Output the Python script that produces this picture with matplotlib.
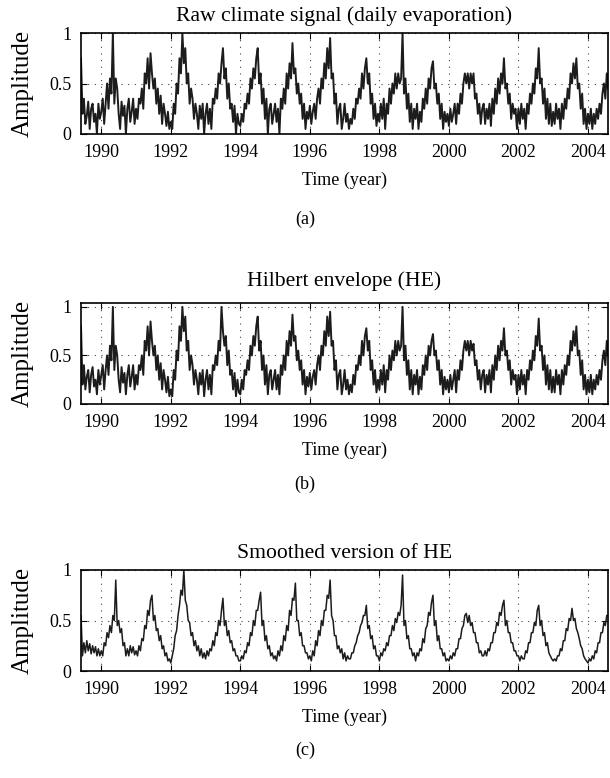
import numpy as np
import matplotlib
matplotlib.use('Agg')
import matplotlib.pyplot as plt

# semi-monthly values, start mid 1989, one line per year
start_year = 1989.42
step = 1 / 24

raw_vals = [
    0.75, 0.2, 0.35, 0.1, 0.18, 0.32, 0.05, 0.25, 0.3, 0.12, 0.2, 0.0, 0.3, 0.15,
    0.22, 0.35, 0.1, 0.3, 0.5, 0.25, 0.55, 0.4, 1.0, 0.3, 0.55, 0.45, 0.2, 0.05, 0.32, 0.18, 0.28, 0.0, 0.25, 0.35, 0.12, 0.22, 0.35, 0.1,
    0.25, 0.15, 0.35, 0.3, 0.45, 0.25, 0.6, 0.5, 0.75, 0.45, 0.8, 0.6, 0.45, 0.55, 0.3, 0.45, 0.2, 0.38, 0.1, 0.3, 0.2, 0.08, 0.22, 0.05,
    0.12, 0.05, 0.3, 0.2, 0.5, 0.4, 0.75, 0.6, 1.0, 0.7, 0.85, 0.5, 0.6, 0.3, 0.45, 0.35, 0.15, 0.3, 0.2, 0.05, 0.28, 0.15, 0.3, 0.0,
    0.2, 0.3, 0.1, 0.25, 0.05, 0.35, 0.3, 0.45, 0.35, 0.6, 0.5, 0.7, 0.85, 0.55, 0.65, 0.35, 0.5, 0.25, 0.3, 0.12, 0.28, 0.0, 0.2, 0.1,
    0.08, 0.2, 0.12, 0.3, 0.25, 0.4, 0.3, 0.55, 0.45, 0.65, 0.55, 0.75, 0.85, 0.5, 0.6, 0.3, 0.45, 0.15, 0.35, 0.0, 0.25, 0.3, 0.1, 0.2,
    0.3, 0.12, 0.25, 0.0, 0.35, 0.25, 0.45, 0.3, 0.6, 0.45, 0.7, 0.55, 0.9, 0.6, 0.65, 0.4, 0.5, 0.3, 0.4, 0.15, 0.3, 0.05, 0.22, 0.15,
    0.28, 0.1, 0.22, 0.3, 0.15, 0.35, 0.45, 0.3, 0.55, 0.45, 0.7, 0.55, 0.85, 0.65, 0.95, 0.55, 0.6, 0.3, 0.4, 0.1, 0.25, 0.3, 0.05, 0.15,
    0.3, 0.12, 0.2, 0.05, 0.15, 0.1, 0.25, 0.15, 0.35, 0.3, 0.45, 0.35, 0.6, 0.45, 0.65, 0.75, 0.5, 0.6, 0.3, 0.4, 0.15, 0.3, 0.08, 0.2,
    0.12, 0.3, 0.15, 0.35, 0.05, 0.3, 0.2, 0.45, 0.3, 0.5, 0.4, 0.6, 0.45, 0.6, 0.5, 0.55, 1.0, 0.4, 0.55, 0.25, 0.4, 0.12, 0.3, 0.05,
    0.25, 0.15, 0.3, 0.05, 0.22, 0.12, 0.35, 0.25, 0.45, 0.3, 0.55, 0.45, 0.65, 0.72, 0.45, 0.5, 0.3, 0.4, 0.15, 0.3, 0.05, 0.22, 0.12, 0.2,
    0.08, 0.25, 0.12, 0.2, 0.3, 0.1, 0.3, 0.2, 0.4, 0.3, 0.5, 0.6, 0.5, 0.6, 0.45, 0.6, 0.5, 0.6, 0.35, 0.4, 0.2, 0.3, 0.1, 0.25,
    0.3, 0.1, 0.25, 0.15, 0.3, 0.08, 0.35, 0.2, 0.45, 0.3, 0.55, 0.4, 0.6, 0.5, 0.75, 0.45, 0.5, 0.3, 0.4, 0.15, 0.3, 0.2, 0.25, 0.05,
    0.25, 0.1, 0.3, 0.15, 0.25, 0.05, 0.3, 0.2, 0.4, 0.3, 0.5, 0.4, 0.65, 0.55, 0.85, 0.5, 0.55, 0.3, 0.45, 0.15, 0.35, 0.1, 0.3, 0.08,
    0.22, 0.1, 0.3, 0.15, 0.25, 0.05, 0.3, 0.15, 0.35, 0.25, 0.45, 0.35, 0.6, 0.5, 0.7, 0.55, 0.75, 0.45, 0.5, 0.25, 0.4, 0.1, 0.25, 0.05,
    0.2, 0.1, 0.25, 0.05, 0.2, 0.1, 0.25, 0.15, 0.3, 0.2, 0.4, 0.5, 0.35, 0.6, 0.45,
]

he_vals = [
    0.8, 0.2, 0.4, 0.15, 0.28, 0.35, 0.12, 0.3, 0.38, 0.18, 0.25, 0.1, 0.35, 0.2,
    0.3, 0.4, 0.15, 0.35, 0.5, 0.3, 0.6, 0.45, 1.0, 0.35, 0.6, 0.5, 0.25, 0.12, 0.38, 0.22, 0.32, 0.1, 0.3, 0.4, 0.18, 0.28, 0.4, 0.15,
    0.3, 0.2, 0.4, 0.35, 0.5, 0.3, 0.65, 0.55, 0.8, 0.5, 0.85, 0.65, 0.5, 0.6, 0.35, 0.5, 0.25, 0.42, 0.15, 0.35, 0.25, 0.12, 0.28, 0.08,
    0.15, 0.08, 0.35, 0.25, 0.55, 0.45, 0.8, 0.65, 1.0, 0.75, 0.9, 0.55, 0.65, 0.35, 0.5, 0.4, 0.2, 0.35, 0.25, 0.1, 0.32, 0.2, 0.35, 0.08,
    0.25, 0.35, 0.15, 0.3, 0.1, 0.4, 0.35, 0.5, 0.4, 0.65, 0.55, 1.0, 0.75, 0.6, 0.7, 0.4, 0.55, 0.3, 0.35, 0.15, 0.32, 0.08, 0.25, 0.12,
    0.1, 0.25, 0.15, 0.35, 0.3, 0.45, 0.35, 0.6, 0.5, 0.7, 0.6, 0.8, 0.9, 0.55, 0.65, 0.35, 0.5, 0.2, 0.4, 0.1, 0.3, 0.35, 0.15, 0.25,
    0.35, 0.15, 0.3, 0.1, 0.4, 0.3, 0.5, 0.35, 0.65, 0.5, 0.75, 0.6, 0.92, 0.65, 0.7, 0.45, 0.55, 0.35, 0.45, 0.2, 0.35, 0.1, 0.28, 0.18,
    0.32, 0.15, 0.28, 0.35, 0.2, 0.4, 0.5, 0.35, 0.6, 0.5, 0.75, 0.6, 0.9, 0.7, 0.95, 0.6, 0.65, 0.35, 0.45, 0.15, 0.3, 0.35, 0.1, 0.2,
    0.35, 0.15, 0.25, 0.1, 0.2, 0.12, 0.3, 0.2, 0.4, 0.35, 0.5, 0.4, 0.65, 0.5, 0.7, 0.78, 0.55, 0.65, 0.35, 0.45, 0.2, 0.35, 0.12, 0.25,
    0.15, 0.35, 0.2, 0.4, 0.12, 0.35, 0.25, 0.5, 0.35, 0.55, 0.45, 0.65, 0.5, 0.65, 0.55, 0.6, 1.0, 0.45, 0.6, 0.3, 0.45, 0.15, 0.35, 0.1,
    0.3, 0.2, 0.35, 0.1, 0.28, 0.15, 0.4, 0.3, 0.5, 0.35, 0.6, 0.5, 0.65, 0.72, 0.5, 0.55, 0.35, 0.45, 0.2, 0.35, 0.1, 0.28, 0.15, 0.25,
    0.12, 0.3, 0.15, 0.25, 0.35, 0.12, 0.35, 0.25, 0.45, 0.35, 0.55, 0.65, 0.55, 0.65, 0.5, 0.65, 0.55, 0.62, 0.4, 0.45, 0.25, 0.35, 0.15, 0.3,
    0.35, 0.12, 0.3, 0.2, 0.35, 0.12, 0.4, 0.25, 0.5, 0.35, 0.6, 0.45, 0.65, 0.55, 0.78, 0.5, 0.55, 0.35, 0.45, 0.2, 0.35, 0.25, 0.3, 0.1,
    0.3, 0.15, 0.35, 0.2, 0.3, 0.1, 0.35, 0.25, 0.45, 0.35, 0.55, 0.45, 0.7, 0.6, 0.88, 0.55, 0.6, 0.35, 0.5, 0.2, 0.4, 0.15, 0.35, 0.12,
    0.28, 0.12, 0.35, 0.2, 0.3, 0.1, 0.35, 0.2, 0.4, 0.3, 0.5, 0.4, 0.65, 0.55, 0.75, 0.6, 0.8, 0.5, 0.55, 0.3, 0.45, 0.15, 0.3, 0.1,
    0.25, 0.12, 0.3, 0.1, 0.25, 0.15, 0.3, 0.2, 0.35, 0.25, 0.45, 0.55, 0.4, 0.65, 0.5,
]

smooth_vals = [
    0.55, 0.15, 0.28, 0.18, 0.3, 0.2, 0.27, 0.17, 0.25, 0.18, 0.24, 0.15, 0.22, 0.15,
    0.2, 0.15, 0.28, 0.25, 0.38, 0.33, 0.45, 0.38, 0.55, 0.5, 0.9, 0.45, 0.5, 0.38, 0.42, 0.25, 0.28, 0.15, 0.22, 0.15, 0.25, 0.18, 0.24, 0.16,
    0.2, 0.15, 0.25, 0.2, 0.32, 0.3, 0.45, 0.42, 0.6, 0.55, 0.7, 0.75, 0.5, 0.55, 0.4, 0.42, 0.3, 0.35, 0.22, 0.25, 0.15, 0.18, 0.1, 0.12,
    0.08, 0.15, 0.22, 0.35, 0.4, 0.55, 0.65, 0.8, 0.75, 1.0, 0.7, 0.65, 0.5, 0.48, 0.35, 0.38, 0.25, 0.3, 0.2, 0.25, 0.15, 0.22, 0.13, 0.18,
    0.12, 0.2, 0.15, 0.22, 0.2, 0.3, 0.25, 0.38, 0.35, 0.5, 0.45, 0.6, 0.72, 0.45, 0.5, 0.35, 0.4, 0.28, 0.3, 0.2, 0.22, 0.15, 0.15, 0.1,
    0.1, 0.15, 0.12, 0.2, 0.18, 0.28, 0.25, 0.38, 0.35, 0.5, 0.45, 0.6, 0.6, 0.7, 0.78, 0.45, 0.5, 0.3, 0.35, 0.22, 0.25, 0.15, 0.18, 0.12,
    0.15, 0.1, 0.2, 0.15, 0.25, 0.2, 0.35, 0.3, 0.45, 0.4, 0.6, 0.55, 0.72, 0.7, 0.87, 0.5, 0.5, 0.35, 0.38, 0.25, 0.25, 0.18, 0.18, 0.12,
    0.15, 0.1, 0.2, 0.15, 0.3, 0.25, 0.4, 0.35, 0.5, 0.45, 0.6, 0.6, 0.75, 0.72, 0.9, 0.55, 0.5, 0.35, 0.35, 0.22, 0.25, 0.18, 0.22, 0.12,
    0.18, 0.1, 0.15, 0.12, 0.12, 0.18, 0.18, 0.25, 0.28, 0.35, 0.38, 0.45, 0.48, 0.55, 0.55, 0.65, 0.42, 0.45, 0.32, 0.35, 0.22, 0.25, 0.15, 0.15,
    0.1, 0.18, 0.15, 0.22, 0.2, 0.28, 0.25, 0.35, 0.35, 0.45, 0.4, 0.52, 0.48, 0.58, 0.55, 0.65, 0.95, 0.45, 0.5, 0.32, 0.35, 0.22, 0.22, 0.15,
    0.18, 0.1, 0.18, 0.15, 0.22, 0.2, 0.32, 0.28, 0.42, 0.45, 0.58, 0.55, 0.68, 0.75, 0.45, 0.5, 0.3, 0.35, 0.22, 0.22, 0.15, 0.18, 0.1, 0.12,
    0.1, 0.15, 0.12, 0.18, 0.15, 0.22, 0.22, 0.32, 0.32, 0.42, 0.45, 0.55, 0.57, 0.48, 0.55, 0.45, 0.48, 0.38, 0.38, 0.28, 0.28, 0.18, 0.2, 0.15,
    0.15, 0.2, 0.15, 0.22, 0.2, 0.28, 0.28, 0.38, 0.38, 0.48, 0.45, 0.58, 0.55, 0.65, 0.7, 0.45, 0.5, 0.38, 0.38, 0.28, 0.28, 0.2, 0.2, 0.15,
    0.15, 0.1, 0.15, 0.12, 0.12, 0.2, 0.18, 0.28, 0.28, 0.38, 0.38, 0.48, 0.45, 0.6, 0.65, 0.45, 0.5, 0.35, 0.38, 0.25, 0.28, 0.18, 0.15, 0.12,
    0.1, 0.12, 0.1, 0.15, 0.15, 0.22, 0.2, 0.3, 0.3, 0.42, 0.4, 0.52, 0.5, 0.62, 0.5, 0.52, 0.42, 0.38, 0.32, 0.25, 0.22, 0.15, 0.12, 0.1,
    0.08, 0.12, 0.1, 0.15, 0.12, 0.2, 0.18, 0.28, 0.28, 0.38, 0.38, 0.48, 0.45, 0.55, 0.55,
]

titles = ['Raw climate signal (daily evaporation)', 'Hilbert envelope (HE)', 'Smoothed version of HE']
captions = ['(a)', '(b)', '(c)']
year_ticks = [1990, 1992, 1994, 1996, 1998, 2000, 2002, 2004]

plt.rcParams['font.family'] = 'Liberation Serif'
plt.rcParams['font.size'] = 13

fig = plt.figure(figsize=(6.1, 7.78), dpi=100)
H = 778.0
W = 610.0

# top, bottom of each axes and caption y, in pixels
boxes = [(33, 134, 219), (303, 404, 484), (570, 671, 750)]
series = [raw_vals, he_vals, smooth_vals]
ytops = [1.0, 1.04, 1.0]
title_pads = [9, 12, 9]
widths = [1.4, 1.4, 1.1]

for i in range(3):
    vals = series[i]
    top, bot, cy = boxes[i]
    ax = fig.add_axes([81 / W, 1 - bot / H, 527 / W, (bot - top) / H])
    t = start_year + step * np.arange(len(vals))
    ax.plot(t, vals, color='#1c1c1c', lw=widths[i])
    ax.set_xlim(1989.42, 2004.58)
    ax.set_ylim(0, ytops[i])
    ax.set_xticks(year_ticks)
    ax.set_yticks([0, 0.5, 1])
    ax.set_yticklabels(['0', '0.5', '1'])
    ax.grid(True, linestyle=(0, (1, 5)), color='#444444', lw=0.8)
    ax.tick_params(direction='in', length=4, top=True, right=True, pad=7)
    for s in ax.spines.values():
        s.set_linewidth(1.2)
    ax.set_title(titles[i], pad=title_pads[i])
    ax.set_xlabel('Time (year)', labelpad=8)
    ax.set_ylabel('Amplitude', fontsize=18, labelpad=11)
    fig.text(0.5, 1 - cy / H, captions[i], ha='center', va='center')

fig.savefig('out.png', dpi=100)
